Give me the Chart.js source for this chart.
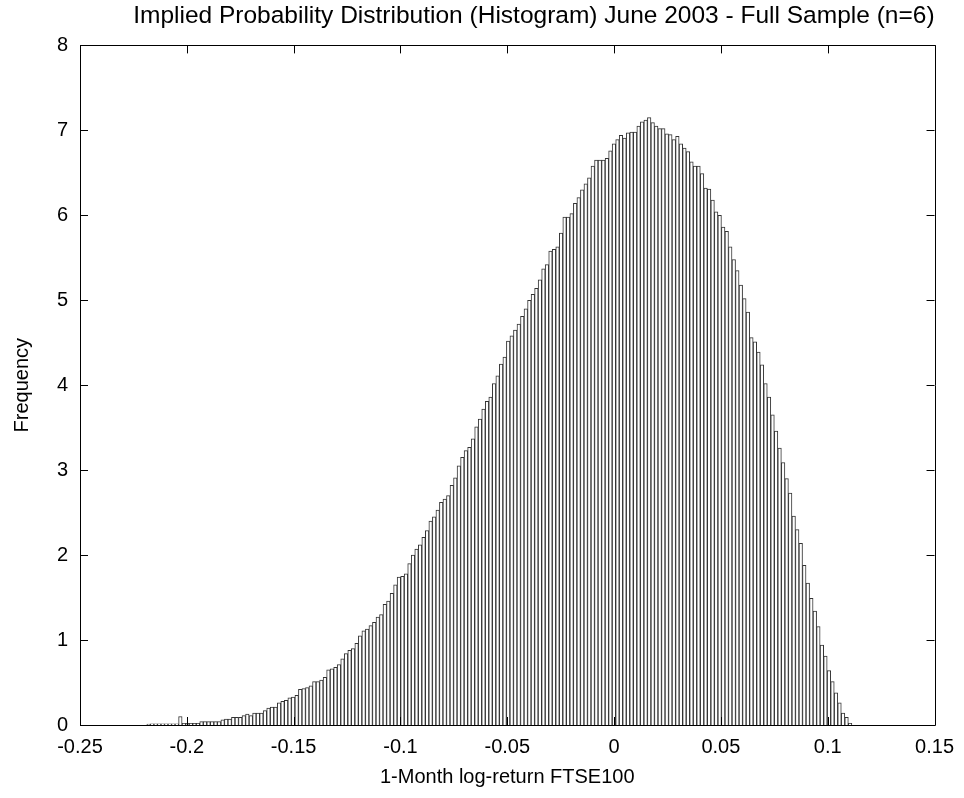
<!DOCTYPE html>
<html>
<head>
<meta charset="utf-8">
<script src="https://cdn.jsdelivr.net/npm/chart.js@4.4.1/dist/chart.umd.min.js"></script>
<style>
  html, body { margin: 0; padding: 0; background: #fff; }
  canvas { display: block; }
</style>
</head>
<body>
<canvas id="histChart" width="964" height="798"></canvas>
<script>
// histogram bins (200 bins over the sample range)
const binStart = -0.2187;
const binWidth = 0.00165;

// bar heights, left to right
const frequency = [
    0.01, 0.015, 0.015, 0.015, 0.015, 0.015, 0.015, 0.015, 0.015, 0.10,
    0.02, 0.02, 0.02, 0.02, 0.02, 0.04, 0.04, 0.04, 0.04, 0.04,
    0.04, 0.06, 0.07, 0.07, 0.09, 0.09, 0.09, 0.11, 0.13, 0.11,
    0.14, 0.14, 0.14, 0.17, 0.20, 0.21, 0.21, 0.26, 0.28, 0.29,
    0.32, 0.33, 0.35, 0.42, 0.43, 0.44, 0.46, 0.51, 0.51, 0.53,
    0.56, 0.65, 0.66, 0.68, 0.71, 0.78, 0.84, 0.88, 0.90, 0.96,
    1.05, 1.11, 1.13, 1.17, 1.21, 1.27, 1.30, 1.42, 1.46, 1.55,
    1.65, 1.74, 1.75, 1.78, 1.90, 2.00, 2.07, 2.12, 2.21, 2.29,
    2.40, 2.45, 2.53, 2.62, 2.66, 2.70, 2.82, 2.91, 3.05, 3.15,
    3.23, 3.27, 3.37, 3.51, 3.60, 3.72, 3.81, 3.86, 4.02, 4.11,
    4.25, 4.33, 4.52, 4.58, 4.65, 4.72, 4.81, 4.90, 5.00, 5.07,
    5.14, 5.24, 5.37, 5.42, 5.58, 5.60, 5.63, 5.79, 5.98, 5.98,
    6.02, 6.14, 6.21, 6.30, 6.37, 6.44, 6.58, 6.65, 6.65, 6.65,
    6.67, 6.76, 6.84, 6.89, 6.94, 6.91, 6.97, 6.98, 6.98, 7.05,
    7.10, 7.12, 7.15, 7.09, 7.05, 7.02, 7.02, 6.96, 6.95, 6.89,
    6.93, 6.84, 6.79, 6.75, 6.63, 6.58, 6.58, 6.49, 6.32, 6.31,
    6.18, 6.04, 6.00, 5.86, 5.81, 5.63, 5.48, 5.35, 5.18, 5.02,
    4.86, 4.56, 4.51, 4.39, 4.24, 4.02, 3.86, 3.65, 3.46, 3.26,
    3.09, 2.90, 2.73, 2.46, 2.30, 2.14, 1.88, 1.67, 1.49, 1.34,
    1.16, 0.94, 0.81, 0.64, 0.51, 0.38, 0.26, 0.14, 0.09, 0.02
];

const xTickValues = [-0.25, -0.2, -0.15, -0.1, -0.05, 0, 0.05, 0.1, 0.15];
const xTickLabels = ['-0.25', '-0.2', '-0.15', '-0.1', '-0.05', '0', '0.05', '0.1', '0.15'];
const yTickValues = [0, 1, 2, 3, 4, 5, 6, 7, 8];

const FONT = "'Liberation Sans', Arial, Helvetica, sans-serif";
const TICK_LEN = 8;

// bin centres for the bars
const histPoints = frequency.map((f, i) => ({ x: binStart + binWidth * (i + 0.5), y: f }));

// matlab style box with ticks pointing inwards
const boxPlugin = {
    id: 'boxPlugin',
    afterDraw(chart) {
        const { ctx, chartArea: a, scales } = chart;
        ctx.save();
        ctx.strokeStyle = '#000';
        ctx.lineWidth = 1;
        ctx.beginPath();
        ctx.rect(Math.round(a.left) + 0.5, Math.round(a.top) + 0.5,
                 Math.round(a.right - a.left), Math.round(a.bottom - a.top));
        scales.x.ticks.forEach(t => {
            const px = Math.round(scales.x.getPixelForValue(t.value)) + 0.5;
            ctx.moveTo(px, a.bottom); ctx.lineTo(px, a.bottom - TICK_LEN);
            ctx.moveTo(px, a.top); ctx.lineTo(px, a.top + TICK_LEN);
        });
        scales.y.ticks.forEach(t => {
            const py = Math.round(scales.y.getPixelForValue(t.value)) + 0.5;
            ctx.moveTo(a.left, py); ctx.lineTo(a.left + TICK_LEN, py);
            ctx.moveTo(a.right, py); ctx.lineTo(a.right - TICK_LEN, py);
        });
        ctx.stroke();
        ctx.restore();
    }
};

new Chart(document.getElementById('histChart'), {
    type: 'bar',
    data: {
        datasets: [{
            data: histPoints,
            backgroundColor: '#ffffff',
            borderColor: '#333333',
            borderWidth: 1,
            barPercentage: 1,
            categoryPercentage: 1
        }]
    },
    options: {
        responsive: false,
        animation: false,
        layout: { padding: { left: 0, right: 29, top: 0, bottom: 0 } },
        plugins: {
            legend: { display: false },
            tooltip: { enabled: false },
            title: {
                display: true,
                fullSize: false,
                align: 'end',
                text: 'Implied Probability Distribution (Histogram) June 2003 - Full Sample (n=6)',
                color: '#000',
                font: { family: FONT, size: 24.5, weight: 'normal' },
                padding: { top: 2, bottom: 14 }
            }
        },
        scales: {
            x: {
                type: 'linear',
                min: -0.25,
                max: 0.15,
                offset: false,
                grid: { display: false, drawTicks: false },
                border: { display: false },
                afterBuildTicks: s => { s.ticks = xTickValues.map(v => ({ value: v })); },
                afterFit: s => { s.height = 73; },
                ticks: {
                    color: '#000',
                    font: { family: FONT, size: 20 },
                    padding: 10,
                    maxRotation: 0,
                    callback: (v, i) => xTickLabels[i]
                },
                title: {
                    display: true,
                    text: '1-Month log-return FTSE100',
                    color: '#000',
                    font: { family: FONT, size: 20 },
                    padding: { top: 0, bottom: 9 }
                }
            },
            y: {
                min: 0,
                max: 8,
                grid: { display: false, drawTicks: false },
                border: { display: false },
                afterBuildTicks: s => { s.ticks = yTickValues.map(v => ({ value: v })); },
                afterFit: s => { s.width = 80; },
                ticks: {
                    color: '#000',
                    font: { family: FONT, size: 20 },
                    padding: 12
                },
                title: {
                    display: true,
                    text: 'Frequency',
                    color: '#000',
                    font: { family: FONT, size: 20 },
                    padding: { top: 10, bottom: 0 }
                }
            }
        }
    },
    plugins: [boxPlugin]
});
</script>
</body>
</html>
